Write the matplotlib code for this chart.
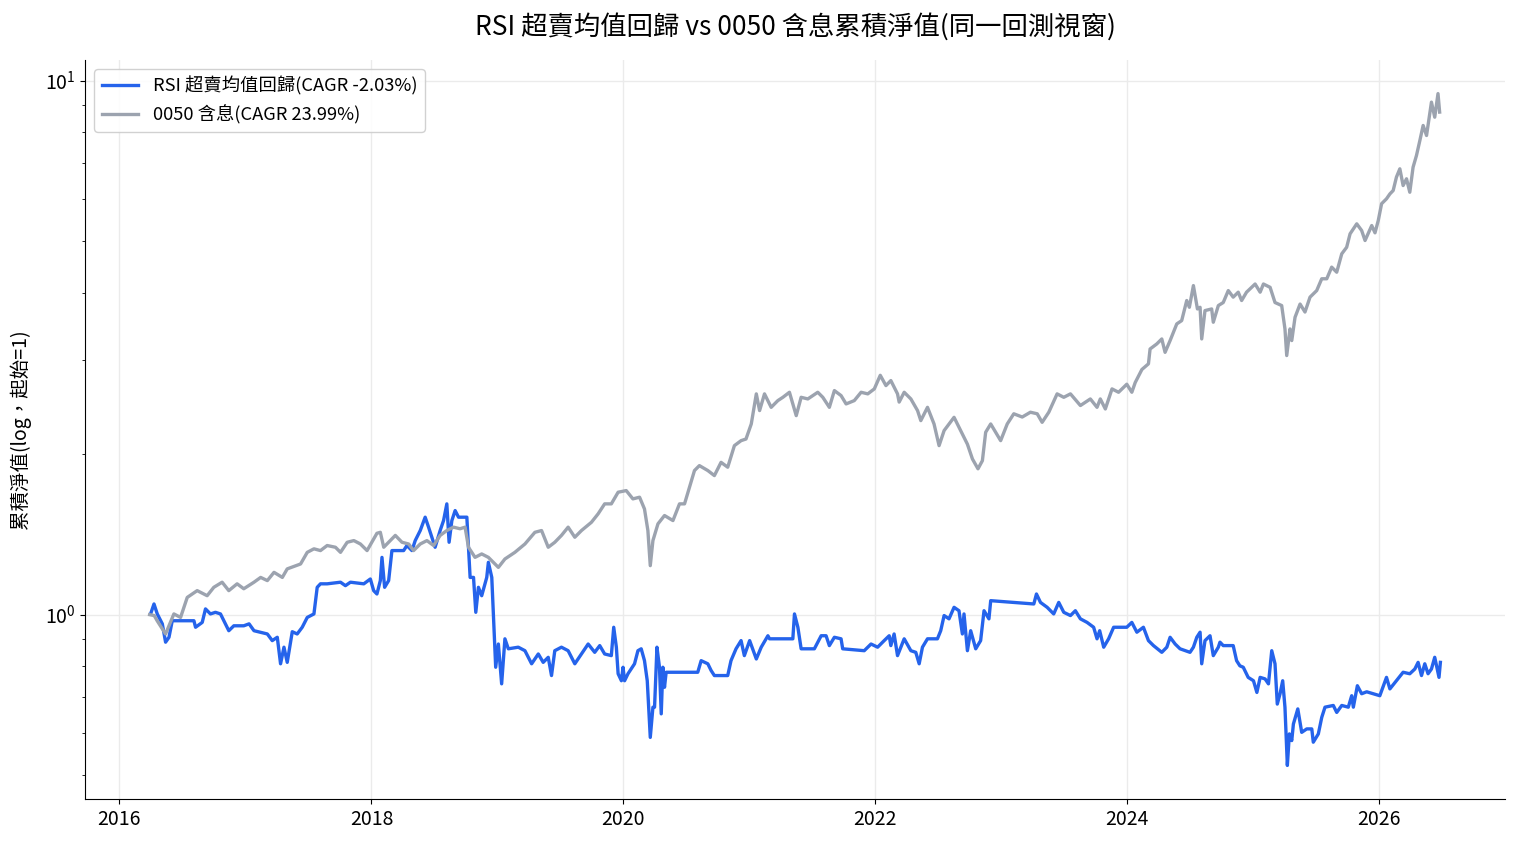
import numpy as np
import pandas as pd
import matplotlib
matplotlib.use("Agg")
import matplotlib.pyplot as plt
import matplotlib.dates as mdates

plt.rcParams['font.family'] = ['Noto Sans CJK TC', 'DejaVu Sans']

# 0050 total-return NAV (decimal year, value)
etf_t = [2016.240, 2016.277, 2016.300, 2016.367, 2016.433, 2016.486, 2016.539, 2016.618, 2016.697, 2016.750,
         2016.816, 2016.869, 2016.935, 2016.988, 2017.067, 2017.120, 2017.173, 2017.226, 2017.292, 2017.331,
         2017.437, 2017.490, 2017.543, 2017.595, 2017.648, 2017.714, 2017.754, 2017.807, 2017.860, 2017.912,
         2017.965, 2018.044, 2018.071, 2018.098, 2018.137, 2018.190, 2018.243, 2018.296, 2018.335, 2018.388,
         2018.441, 2018.494, 2018.546, 2018.599, 2018.652, 2018.704, 2018.744, 2018.771, 2018.823, 2018.876,
         2018.929, 2019.009, 2019.061, 2019.140, 2019.220, 2019.299, 2019.352, 2019.405, 2019.457, 2019.510,
         2019.563, 2019.616, 2019.669, 2019.748, 2019.801, 2019.853, 2019.906, 2019.960, 2020.025, 2020.078,
         2020.131, 2020.170, 2020.197, 2020.216, 2020.237, 2020.277, 2020.329, 2020.396, 2020.448, 2020.488,
         2020.527, 2020.567, 2020.606, 2020.673, 2020.725, 2020.778, 2020.831, 2020.884, 2020.937, 2020.976,
         2021.016, 2021.056, 2021.082, 2021.121, 2021.174, 2021.227, 2021.267, 2021.319, 2021.373, 2021.412,
         2021.465, 2021.544, 2021.584, 2021.636, 2021.676, 2021.729, 2021.769, 2021.834, 2021.888, 2021.941,
         2021.993, 2022.041, 2022.086, 2022.125, 2022.178, 2022.191, 2022.231, 2022.284, 2022.337, 2022.363,
         2022.416, 2022.468, 2022.508, 2022.548, 2022.627, 2022.693, 2022.733, 2022.773, 2022.817, 2022.852,
         2022.878, 2022.918, 2022.957, 2022.997, 2023.050, 2023.102, 2023.169, 2023.234, 2023.288, 2023.327,
         2023.380, 2023.446, 2023.499, 2023.552, 2023.631, 2023.710, 2023.763, 2023.789, 2023.829, 2023.882,
         2023.934, 2024.000, 2024.040, 2024.067, 2024.120, 2024.172, 2024.185, 2024.238, 2024.278, 2024.304,
         2024.344, 2024.397, 2024.436, 2024.476, 2024.497, 2024.529, 2024.561, 2024.582, 2024.595, 2024.621,
         2024.674, 2024.687, 2024.727, 2024.766, 2024.806, 2024.845, 2024.885, 2024.912, 2024.951, 2025.017,
         2025.057, 2025.083, 2025.136, 2025.175, 2025.228, 2025.254, 2025.268, 2025.294, 2025.308, 2025.334,
         2025.374, 2025.413, 2025.453, 2025.506, 2025.546, 2025.586, 2025.625, 2025.665, 2025.705, 2025.744,
         2025.771, 2025.824, 2025.863, 2025.890, 2025.943, 2025.969, 2025.995, 2026.022, 2026.061, 2026.088,
         2026.114, 2026.140, 2026.167, 2026.193, 2026.220, 2026.246, 2026.272, 2026.299, 2026.326, 2026.352,
         2026.379, 2026.405, 2026.418, 2026.444, 2026.470, 2026.483]
etf_nav = [1.000, 0.996, 0.974, 0.920, 1.003, 0.988, 1.077, 1.109, 1.085, 1.125,
           1.150, 1.109, 1.142, 1.118, 1.150, 1.174, 1.158, 1.200, 1.174, 1.218,
           1.244, 1.308, 1.328, 1.318, 1.347, 1.337, 1.308, 1.366, 1.376, 1.356,
           1.318, 1.420, 1.426, 1.337, 1.366, 1.407, 1.366, 1.356, 1.318, 1.356,
           1.376, 1.347, 1.407, 1.437, 1.458, 1.448, 1.458, 1.337, 1.280, 1.299,
           1.280, 1.226, 1.271, 1.308, 1.356, 1.426, 1.437, 1.337, 1.366, 1.407,
           1.458, 1.396, 1.437, 1.489, 1.544, 1.612, 1.612, 1.695, 1.707, 1.647,
           1.659, 1.577, 1.437, 1.235, 1.376, 1.479, 1.533, 1.500, 1.612, 1.612,
           1.731, 1.861, 1.901, 1.861, 1.821, 1.928, 1.888, 2.072, 2.117, 2.132,
           2.275, 2.590, 2.410, 2.590, 2.444, 2.516, 2.552, 2.608, 2.358, 2.552,
           2.534, 2.608, 2.552, 2.444, 2.627, 2.571, 2.480, 2.516, 2.608, 2.590,
           2.646, 2.806, 2.684, 2.743, 2.590, 2.500, 2.608, 2.534, 2.410, 2.308,
           2.444, 2.275, 2.072, 2.211, 2.341, 2.179, 2.085, 1.956, 1.875, 1.942,
           2.195, 2.275, 2.195, 2.117, 2.275, 2.377, 2.344, 2.393, 2.377, 2.291,
           2.393, 2.590, 2.552, 2.590, 2.463, 2.534, 2.444, 2.534, 2.427, 2.646,
           2.608, 2.700, 2.608, 2.720, 2.877, 2.948, 3.143, 3.212, 3.282, 3.098,
           3.259, 3.502, 3.552, 3.873, 3.762, 4.131, 3.735, 3.762, 3.282, 3.709,
           3.735, 3.527, 3.790, 3.840, 4.043, 3.930, 4.015, 3.873, 4.015, 4.159,
           4.015, 4.159, 4.100, 3.840, 3.790, 3.427, 3.055, 3.427, 3.259, 3.603,
           3.815, 3.686, 3.930, 4.043, 4.254, 4.254, 4.473, 4.376, 4.737, 4.873,
           5.163, 5.391, 5.238, 5.017, 5.351, 5.186, 5.469, 5.879, 6.005, 6.133,
           6.223, 6.594, 6.834, 6.358, 6.546, 6.177, 6.880, 7.237, 7.721, 8.238,
           7.889, 8.665, 9.110, 8.537, 9.451, 8.727]

# RSI oversold mean-reversion strategy NAV
rsi_t = [2016.248, 2016.275, 2016.301, 2016.341, 2016.367, 2016.394, 2016.420, 2016.592, 2016.605, 2016.658,
         2016.684, 2016.723, 2016.763, 2016.803, 2016.830, 2016.869, 2016.909, 2016.988, 2017.028, 2017.067,
         2017.173, 2017.212, 2017.252, 2017.278, 2017.305, 2017.331, 2017.371, 2017.410, 2017.450, 2017.490,
         2017.543, 2017.569, 2017.595, 2017.648, 2017.754, 2017.793, 2017.833, 2017.939, 2017.991, 2018.018,
         2018.044, 2018.071, 2018.084, 2018.105, 2018.137, 2018.163, 2018.256, 2018.282, 2018.322, 2018.348,
         2018.388, 2018.427, 2018.454, 2018.480, 2018.506, 2018.546, 2018.573, 2018.599, 2018.617, 2018.639,
         2018.665, 2018.692, 2018.758, 2018.771, 2018.784, 2018.811, 2018.829, 2018.850, 2018.876, 2018.916,
         2018.929, 2018.956, 2018.977, 2018.987, 2019.009, 2019.035, 2019.061, 2019.088, 2019.167, 2019.220,
         2019.273, 2019.326, 2019.365, 2019.405, 2019.431, 2019.457, 2019.510, 2019.563, 2019.616, 2019.669,
         2019.722, 2019.774, 2019.814, 2019.853, 2019.906, 2019.925, 2019.946, 2019.960, 2019.986, 2019.999,
         2020.012, 2020.039, 2020.091, 2020.118, 2020.144, 2020.170, 2020.192, 2020.216, 2020.237, 2020.250,
         2020.269, 2020.289, 2020.303, 2020.316, 2020.329, 2020.342, 2020.593, 2020.620, 2020.673, 2020.699,
         2020.725, 2020.831, 2020.857, 2020.897, 2020.937, 2020.963, 2021.003, 2021.056, 2021.095, 2021.148,
         2021.161, 2021.346, 2021.359, 2021.386, 2021.412, 2021.517, 2021.571, 2021.610, 2021.636, 2021.676,
         2021.729, 2021.742, 2021.913, 2021.967, 2022.020, 2022.072, 2022.112, 2022.125, 2022.151, 2022.178,
         2022.231, 2022.284, 2022.323, 2022.350, 2022.376, 2022.416, 2022.495, 2022.521, 2022.548, 2022.587,
         2022.627, 2022.666, 2022.693, 2022.706, 2022.733, 2022.759, 2022.799, 2022.838, 2022.865, 2022.904,
         2022.918, 2023.102, 2023.261, 2023.282, 2023.314, 2023.367, 2023.419, 2023.459, 2023.499, 2023.552,
         2023.591, 2023.631, 2023.684, 2023.736, 2023.763, 2023.784, 2023.816, 2023.855, 2023.895, 2024.000,
         2024.040, 2024.080, 2024.132, 2024.172, 2024.212, 2024.278, 2024.318, 2024.344, 2024.384, 2024.423,
         2024.502, 2024.529, 2024.556, 2024.582, 2024.595, 2024.621, 2024.661, 2024.687, 2024.727, 2024.740,
         2024.766, 2024.845, 2024.872, 2024.898, 2024.925, 2024.964, 2025.004, 2025.031, 2025.057, 2025.096,
         2025.123, 2025.149, 2025.175, 2025.193, 2025.215, 2025.236, 2025.254, 2025.273, 2025.289, 2025.308,
         2025.321, 2025.356, 2025.387, 2025.427, 2025.467, 2025.479, 2025.519, 2025.546, 2025.572, 2025.638,
         2025.665, 2025.705, 2025.757, 2025.784, 2025.797, 2025.829, 2025.863, 2025.903, 2026.008, 2026.061,
         2026.088, 2026.140, 2026.193, 2026.246, 2026.286, 2026.312, 2026.339, 2026.365, 2026.391, 2026.418,
         2026.444, 2026.478, 2026.489]
rsi_nav = [1.003, 1.047, 1.003, 0.961, 0.888, 0.907, 0.974, 0.974, 0.947, 0.967,
           1.025, 1.003, 1.010, 1.003, 0.974, 0.933, 0.953, 0.953, 0.961, 0.933,
           0.920, 0.894, 0.907, 0.809, 0.869, 0.814, 0.929, 0.920, 0.947, 0.988,
           1.003, 1.125, 1.142, 1.142, 1.150, 1.133, 1.150, 1.142, 1.166, 1.109,
           1.093, 1.158, 1.280, 1.125, 1.158, 1.318, 1.318, 1.347, 1.318, 1.376,
           1.437, 1.522, 1.458, 1.396, 1.337, 1.437, 1.500, 1.612, 1.366, 1.500,
           1.566, 1.522, 1.522, 1.337, 1.174, 1.174, 1.010, 1.125, 1.085, 1.174,
           1.253, 1.174, 0.907, 0.797, 0.881, 0.742, 0.901, 0.863, 0.869, 0.856,
           0.809, 0.844, 0.814, 0.832, 0.769, 0.856, 0.869, 0.856, 0.809, 0.844,
           0.881, 0.850, 0.875, 0.844, 0.838, 0.947, 0.869, 0.775, 0.752, 0.797,
           0.752, 0.775, 0.809, 0.856, 0.863, 0.820, 0.752, 0.589, 0.671, 0.671,
           0.869, 0.797, 0.652, 0.797, 0.731, 0.780, 0.780, 0.820, 0.809, 0.786,
           0.769, 0.769, 0.820, 0.863, 0.894, 0.838, 0.894, 0.826, 0.869, 0.913,
           0.901, 0.901, 1.003, 0.947, 0.863, 0.863, 0.913, 0.913, 0.875, 0.907,
           0.901, 0.863, 0.856, 0.881, 0.869, 0.894, 0.913, 0.875, 0.920, 0.838,
           0.901, 0.856, 0.850, 0.809, 0.869, 0.901, 0.901, 0.933, 0.996, 0.982,
           1.032, 1.017, 0.920, 1.003, 0.856, 0.933, 0.863, 0.894, 1.017, 0.982,
           1.062, 1.054, 1.047, 1.093, 1.054, 1.032, 1.003, 1.054, 1.010, 0.996,
           1.017, 0.982, 0.967, 0.947, 0.901, 0.933, 0.869, 0.901, 0.947, 0.947,
           0.967, 0.927, 0.947, 0.894, 0.875, 0.850, 0.869, 0.907, 0.881, 0.863,
           0.850, 0.869, 0.907, 0.927, 0.809, 0.894, 0.913, 0.838, 0.869, 0.888,
           0.875, 0.875, 0.820, 0.802, 0.797, 0.763, 0.752, 0.715, 0.763, 0.758,
           0.742, 0.856, 0.809, 0.680, 0.711, 0.752, 0.671, 0.522, 0.598, 0.581,
           0.624, 0.666, 0.602, 0.611, 0.611, 0.577, 0.598, 0.642, 0.671, 0.676,
           0.656, 0.676, 0.671, 0.705, 0.671, 0.736, 0.711, 0.717, 0.705, 0.763,
           0.726, 0.752, 0.780, 0.775, 0.791, 0.814, 0.769, 0.809, 0.775, 0.791,
           0.832, 0.763, 0.814]

rsi_label = 'RSI 超賣均值回歸(CAGR -2.03%)'
etf_label = '0050 含息(CAGR 23.99%)'
title = 'RSI 超賣均值回歸 vs 0050 含息累積淨值(同一回測視窗)'
ylabel = '累積淨值(log，起始=1)'


def to_dates(t):
    t = np.asarray(t)
    yr = np.floor(t).astype(int)
    start = pd.to_datetime([f'{y}-01-01' for y in yr])
    return start + pd.to_timedelta((t - yr) * 365.25, unit='D')


fig = plt.figure(figsize=(15.16, 8.44), dpi=100)
ax = fig.add_axes([0.0561, 0.0533, 0.9366, 0.8756])

ax.plot(to_dates(rsi_t), rsi_nav, color='#2563eb', lw=2.4, label=rsi_label)
ax.plot(to_dates(etf_t), etf_nav, color='#9ca3af', lw=2.4, label=etf_label)

ax.set_yscale('log')
ax.xaxis.set_major_locator(mdates.YearLocator(2))
ax.xaxis.set_major_formatter(mdates.DateFormatter('%Y'))
ax.grid(True, color='#ebebeb', lw=1.0)
ax.set_axisbelow(True)
for s in ['top', 'right']:
    ax.spines[s].set_visible(False)
ax.tick_params(labelsize=14)

ax.set_title(title, fontsize=19, pad=18)
ax.set_ylabel(ylabel, fontsize=14, labelpad=10)
ax.legend(loc='upper left', fontsize=13.2, framealpha=0.9, handlelength=2.0)

fig.savefig('out.png', dpi=100)
